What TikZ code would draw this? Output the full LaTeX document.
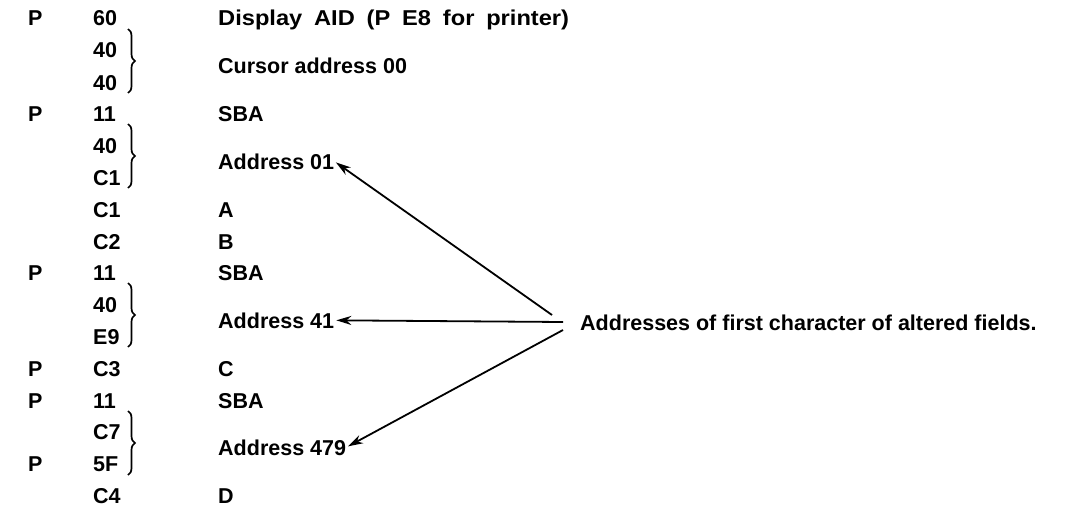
\documentclass[tikz,border=0pt]{standalone}
\usepackage{fontspec}
\setmainfont{Liberation Sans}
\newfontfamily\widefont{Liberation Sans}[FakeStretch=1.1,WordSpace=1.8]
\usetikzlibrary{arrows.meta,decorations.pathreplacing}
\begin{document}
\begin{tikzpicture}[x=1pt,y=-1pt,
  txt/.style={anchor=base west,inner sep=0pt,font=\fontsize{21.5}{24}\selectfont\bfseries},
  widetxt/.style={txt,font=\widefont\fontsize{21.5}{24}\selectfont\bfseries},
  pairbrace/.style={decorate,decoration={brace,amplitude=7pt},line width=1.7pt},
  pointer/.style={line width=1.8pt,-{Stealth[length=15pt,width=9pt]},shorten >=2pt}]
\path[use as bounding box] (0,0) rectangle (1075,511);

% P flags
\node[txt] (p0)  at (28,26)  {P};
\node[txt] (p3)  at (28,121) {P};
\node[txt] (p8)  at (28,280) {P};
\node[txt] (p11) at (28,376) {P};
\node[txt] (p12) at (28,408) {P};
\node[txt] (p14) at (28,471) {P};

% hex bytes
\node[txt] (h0)  at (93,26)  {60};
\node[txt] (h1)  at (93,58)  {40};
\node[txt] (h2)  at (93,90)  {40};
\node[txt] (h3)  at (93,121) {11};
\node[txt] (h4)  at (93,153) {40};
\node[txt] (h5)  at (93,185) {C1};
\node[txt] (h6)  at (93,217) {C1};
\node[txt] (h7)  at (93,249) {C2};
\node[txt] (h8)  at (93,280) {11};
\node[txt] (h9)  at (93,312) {40};
\node[txt] (h10) at (93,344) {E9};
\node[txt] (h11) at (93,376) {C3};
\node[txt] (h12) at (93,408) {11};
\node[txt] (h13) at (93,439) {C7};
\node[txt] (h14) at (93,471) {5F};
\node[txt] (h15) at (93,503) {C4};

% braces joining two-byte addresses
\draw[pairbrace] (128,29) -- (128,93);
\draw[pairbrace] (128,124) -- (128,188);
\draw[pairbrace] (128,283) -- (128,347);
\draw[pairbrace] (128,411) -- (128,475);

% meanings
\node[widetxt] (m0) at (218,26)  {Display AID (P E8 for printer)};
\node[txt] (m1)   at (218,74)  {Cursor address 00};
\node[txt] (m3)   at (218,121) {SBA};
\node[txt] (a01)  at (218,169) {Address 01};
\node[txt] (m6)   at (218,217) {A};
\node[txt] (m7)   at (218,249) {B};
\node[txt] (m8)   at (218,280) {SBA};
\node[txt] (a41)  at (218,328) {Address 41};
\node[txt] (m11)  at (218,376) {C};
\node[txt] (m12)  at (218,408) {SBA};
\node[txt] (a479) at (218,455) {Address 479};
\node[txt] (m15)  at (218,503) {D};

% note and its pointers
\node[txt] (note) at (580,330) {Addresses of first character of altered fields.};
\coordinate (s1) at (552,315);
\coordinate (s2) at (563,322);
\coordinate (s3) at (563,330);
\draw[pointer] (s1) -- (a01.east);
\draw[pointer] (s2) -- (a41.east);
\draw[pointer] (s3) -- (a479.east);
\end{tikzpicture}
\end{document}
